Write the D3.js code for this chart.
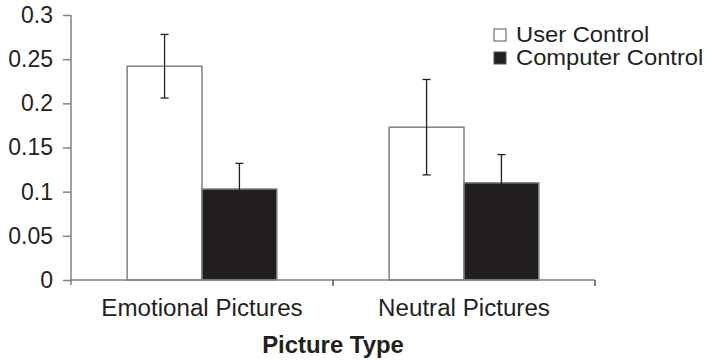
<!DOCTYPE html>
<html>
<head>
<meta charset="UTF-8">
<style>
  body { margin: 0; background: #fff; }
  svg text { font-family: "Liberation Sans", Arial, sans-serif; fill: #231f20; }
</style>
</head>
<body>
<svg></svg>
<script src="https://d3js.org/d3.v7.min.js"></script>
<script>
// data
let categories = ["Emotional Pictures", "Neutral Pictures"];
let seriesNames = ["User Control", "Computer Control"];
let userMeans = [0.242, 0.173];
let userErr = [0.036, 0.054];
let compMeans = [0.103, 0.110];
let compErr = [0.029, 0.032];
let yTicks = [0, 0.05, 0.1, 0.15, 0.2, 0.25, 0.3];

let width = 709, height = 360;
let svg = d3.select("svg").attr("width", width).attr("height", height);

let x0 = d3.scaleBand().domain(categories).range([71, 595]);
let x1 = d3.scaleBand().domain(seriesNames).range([0, x0.bandwidth()])
    .paddingInner(0).paddingOuter(0.75);
let y = d3.scaleLinear().domain([0, 0.3]).range([280, 15]);

let fills = {"User Control": "#fff", "Computer Control": "#231f20"};

// table for bars
let rows = [];
categories.forEach((c, i) => {
  rows.push({cat: c, s: seriesNames[0], v: userMeans[i], e: userErr[i]});
  rows.push({cat: c, s: seriesNames[1], v: compMeans[i], e: compErr[i]});
});

// y axis
let yAxis = svg.append("g")
    .attr("transform", "translate(71,0)")
    .call(d3.axisLeft(y).tickValues(yTicks).tickFormat(d => String(d)).tickSize(8).tickPadding(10));
yAxis.select(".domain").attr("stroke", "#808080").attr("stroke-width", 1.5)
    .attr("d", "M0,15V285");
yAxis.selectAll(".tick line").attr("stroke", "#808080").attr("stroke-width", 1.5);
yAxis.selectAll(".tick text").attr("font-size", 23).attr("fill", "#231f20")
    .style("font-family", "'Liberation Sans', Arial, sans-serif");

// bars
svg.append("g").selectAll("rect")
  .data(rows)
  .enter()
  .append("rect")
    .attr("x", d => x0(d.cat) + x1(d.s))
    .attr("y", d => y(d.v))
    .attr("width", x1.bandwidth())
    .attr("height", d => y(0) - y(d.v))
    .attr("fill", d => fills[d.s])
    .attr("stroke", "#808080")
    .attr("stroke-width", 1.5);

// error bars
let eb = svg.append("g").attr("stroke", "#231f20").attr("stroke-width", 1.3);
rows.forEach(d => {
  let cx = x0(d.cat) + x1(d.s) + x1.bandwidth() / 2;
  eb.append("line").attr("x1", cx).attr("x2", cx).attr("y1", y(d.v + d.e)).attr("y2", y(d.v - d.e));
  eb.append("line").attr("x1", cx - 4).attr("x2", cx + 4).attr("y1", y(d.v + d.e)).attr("y2", y(d.v + d.e));
  eb.append("line").attr("x1", cx - 4).attr("x2", cx + 4).attr("y1", y(d.v - d.e)).attr("y2", y(d.v - d.e));
});

// x axis line and boundary ticks
svg.append("line").attr("x1", 71).attr("x2", 595).attr("y1", y(0)).attr("y2", y(0))
    .attr("stroke", "#808080").attr("stroke-width", 1.5);
let bounds = categories.slice(1).map(c => x0(c)).concat([x0.range()[1]]);
svg.append("g").selectAll("line").data(bounds).enter().append("line")
    .attr("x1", d => d).attr("x2", d => d).attr("y1", y(0)).attr("y2", y(0) + 6)
    .attr("stroke", "#555").attr("stroke-width", 1.5);

// category labels (the scan is a bit wider than tall, so text is stretched)
svg.append("g").selectAll("text").data(categories).enter().append("text")
    .attr("transform", d => `translate(${x0(d) + x0.bandwidth() / 2},316) scale(1.05,1)`)
    .attr("text-anchor", "middle")
    .attr("font-size", 23)
    .text(d => d);

// axis title
svg.append("text")
    .attr("transform", `translate(${(x0.range()[0] + x0.range()[1]) / 2},353) scale(1.04,1)`)
    .attr("text-anchor", "middle")
    .attr("font-size", 23)
    .attr("font-weight", "bold")
    .text("Picture Type");

// legend
let legend = svg.append("g").selectAll("g").data(seriesNames).enter().append("g")
    .attr("transform", (d, i) => `translate(494,${29 + i * 23})`);
legend.append("rect")
    .attr("width", 12).attr("height", 12)
    .attr("fill", d => fills[d])
    .attr("stroke", "#555").attr("stroke-width", 1);
legend.append("text")
    .attr("transform", "translate(22,13) scale(1.08,1)")
    .attr("font-size", 22)
    .text(d => d);
</script>
</body>
</html>
